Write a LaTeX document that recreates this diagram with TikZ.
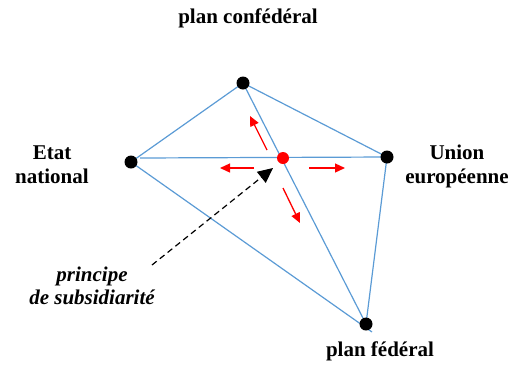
\documentclass[tikz,border=0pt]{standalone}
\usepackage{fontspec}
\setmainfont{Liberation Serif}
\usetikzlibrary{arrows.meta}
\definecolor{lineblue}{RGB}{91,155,213}
\tikzset{
  edge/.style={draw=lineblue, line width=1.2pt},
  blackdot/.style={circle, fill=black, inner sep=0pt, minimum size=13pt},
  reddot/.style={circle, fill=red, inner sep=0pt, minimum size=12pt},
  redarrow/.style={draw=red, line width=1.3pt, -{Triangle[length=10pt,width=9pt]}},
  lbl/.style={font=\fontsize{21}{24}\selectfont\bfseries, align=center},
  ilbl/.style={font=\fontsize{21}{23}\selectfont\bfseries\itshape, align=center}
}
\begin{document}
\begin{tikzpicture}[x=1pt,y=-1pt]
\useasboundingbox (0,0) rectangle (520,365);
\coordinate (T) at (243,83);
\coordinate (L) at (131,162);
\coordinate (R) at (387,157);
\coordinate (B) at (366,324);
\coordinate (C) at (283,158);
\coordinate (Lh) at (140,158);
\coordinate (Bx) at (372,332);
\draw[edge] (T) -- (L);
\draw[edge] (T) -- (R);
\draw[edge] (Lh) -- (R);
\draw[edge] (L) -- (Bx);
\draw[edge] (R) -- (B);
\draw[edge] (T) -- (B);
\node[blackdot] (t) at (T) {};
\node[blackdot] (l) at (L) {};
\node[blackdot] (r) at (R) {};
\node[blackdot] (b) at (B) {};
\node[reddot] (c) at (C) {};
% red arrows
\coordinate (a1s) at (267,150); \coordinate (a1e) at (250,116);
\coordinate (a2s) at (254,168); \coordinate (a2e) at (220,168);
\coordinate (a3s) at (309,168); \coordinate (a3e) at (345,168);
\coordinate (a4s) at (283,188); \coordinate (a4e) at (300,223);
\draw[redarrow] (a1s) -- (a1e);
\draw[redarrow] (a2s) -- (a2e);
\draw[redarrow] (a3s) -- (a3e);
\draw[redarrow] (a4s) -- (a4e);
% labels
\node[lbl] (conf) at (248,18) {plan confédéral};
\node[lbl] (etat) at (52,165) {Etat\\national};
\node[lbl] (union) at (457,166) {Union\\européenne};
\node[lbl] (fed) at (380,351) {plan fédéral};
\node[ilbl] (princ) at (92,286) {principe\\de subsidiarité};
\coordinate (ds) at (152,265);
\coordinate (de) at (273,168);
\draw[line width=1.2pt, dash pattern=on 6pt off 4pt, -{Triangle[length=15pt,width=14pt]}] (ds) -- (de);
\end{tikzpicture}
\end{document}
